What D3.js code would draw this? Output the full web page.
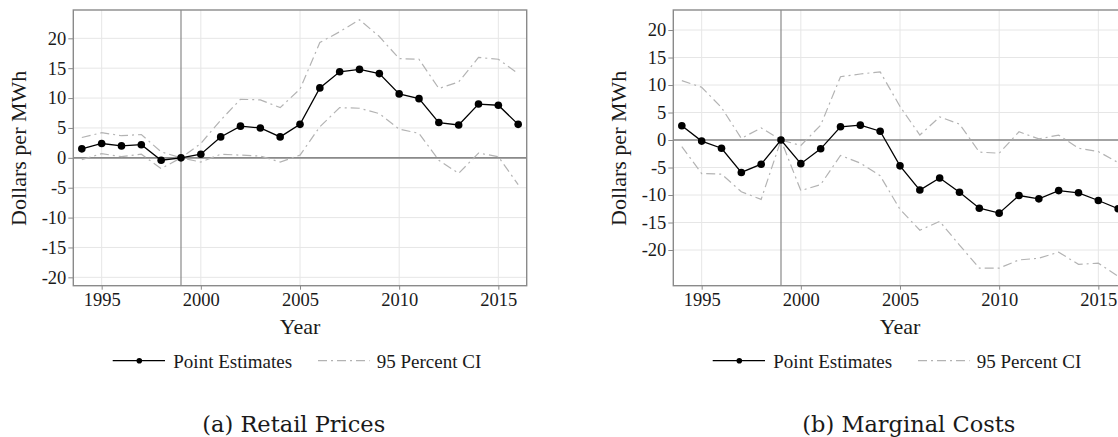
<!DOCTYPE html>
<html>
<head>
<meta charset="utf-8">
<script src="https://cdn.jsdelivr.net/npm/d3@7"></script>
<style>
  body { margin: 0; background: #fff; }
  svg { display: block; }
</style>
</head>
<body>
<div id="chart"></div>
<script>
// Data
const years = d3.range(1994, 2017);
const xTicks = [1995, 2000, 2005, 2010, 2015];
const yTicks = [-20, -15, -10, -5, 0, 5, 10, 15, 20];

const retailEst = [1.5, 2.4, 2.0, 2.2, -0.4, 0, 0.6, 3.5, 5.3, 5.0, 3.5, 5.6, 11.7, 14.4, 14.8, 14.1, 10.7, 9.9, 5.9, 5.5, 9.0, 8.8, 5.6];
const retailHi  = [3.4, 4.2, 3.7, 3.9, 1.0, 0, 2.4, 6.3, 9.8, 9.7, 8.4, 11.5, 19.3, 21.1, 23.1, 20.3, 16.6, 16.5, 11.6, 12.7, 16.8, 16.5, 14.1];
const retailLo  = [-0.3, 0.7, 0.2, 0.6, -1.8, 0, -0.7, 0.6, 0.45, 0.3, -0.7, 0.45, 5.2, 8.4, 8.3, 7.4, 4.8, 4.1, -0.4, -2.6, 0.8, 0.2, -4.5];

const mcEst = [2.6, -0.2, -1.5, -5.9, -4.4, 0, -4.3, -1.6, 2.4, 2.7, 1.6, -4.7, -9.1, -6.9, -9.5, -12.4, -13.3, -10.1, -10.7, -9.2, -9.6, -11.0, -12.5];
const mcHi  = [10.8, 9.6, 5.9, 0.3, 2.2, 0, -1.0, 2.7, 11.5, 12.0, 12.4, 6.1, 0.9, 4.2, 2.9, -2.2, -2.4, 1.5, 0.2, 0.9, -1.5, -2.1, -4.1];
const mcLo  = [-1.2, -6.1, -6.2, -9.4, -10.8, 0, -9.2, -8.1, -2.8, -4.2, -6.5, -12.6, -16.4, -14.8, -19.1, -23.3, -23.3, -21.8, -21.5, -20.4, -22.6, -22.4, -24.8];

const serif = "'Liberation Serif', 'Times New Roman', serif";

const svg = d3.select("#chart")
  .append("svg")
  .attr("width", 1118)
  .attr("height", 437);

const panels = [
  { dx: 0,   est: retailEst, lo: retailLo, hi: retailHi, yDomain: [-21.4, 24.74], zeroColor: "#8a8a8a", zeroWidth: 1.8, caption: "(a) Retail Prices" },
  { dx: 600, est: mcEst,     lo: mcLo,     hi: mcHi,     yDomain: [-26.49, 23.64], zeroColor: "#555", zeroWidth: 1.1, caption: "(b) Marginal Costs" }
];

const plot = { left: 73.3, right: 526.7, top: 10, bottom: 285.7 };

panels.forEach(p => {
  const g = svg.append("g").attr("transform", `translate(${p.dx}, 0)`);

  const x = d3.scaleLinear().domain([1993.57, 2016.43]).range([plot.left, plot.right]);
  const y = d3.scaleLinear().domain(p.yDomain).range([plot.bottom, plot.top]);

  // grid
  g.append("g").selectAll("line")
    .data(yTicks).enter().append("line")
    .attr("x1", plot.left).attr("x2", plot.right)
    .attr("y1", d => y(d)).attr("y2", d => y(d))
    .attr("stroke", "#e6e6e6").attr("stroke-width", 1);
  g.append("g").selectAll("line")
    .data(xTicks).enter().append("line")
    .attr("y1", plot.top).attr("y2", plot.bottom)
    .attr("x1", d => x(d)).attr("x2", d => x(d))
    .attr("stroke", "#e6e6e6").attr("stroke-width", 1);

  // reference lines
  g.append("line")
    .attr("x1", plot.left).attr("x2", plot.right)
    .attr("y1", y(0)).attr("y2", y(0))
    .attr("stroke", p.zeroColor).attr("stroke-width", p.zeroWidth);
  g.append("line")
    .attr("x1", x(1999)).attr("x2", x(1999))
    .attr("y1", plot.top).attr("y2", plot.bottom)
    .attr("stroke", "#8a8a8a").attr("stroke-width", 1.2);

  // CI lines
  const line = d3.line().x((d, i) => x(years[i])).y(d => y(d));
  [p.lo, p.hi].forEach(arr => {
    g.append("path")
      .datum(arr)
      .attr("d", line)
      .attr("fill", "none")
      .attr("stroke", "#b3b3b3")
      .attr("stroke-width", 1.2)
      .attr("stroke-dasharray", "9 4 2 4");
  });

  // estimates
  g.append("path")
    .datum(p.est)
    .attr("d", line)
    .attr("fill", "none")
    .attr("stroke", "#000")
    .attr("stroke-width", 1.3);
  g.selectAll("circle.pt")
    .data(p.est).enter().append("circle")
    .attr("class", "pt")
    .attr("cx", (d, i) => x(years[i]))
    .attr("cy", d => y(d))
    .attr("r", 3.8)
    .attr("fill", "#000");

  // frame
  g.append("rect")
    .attr("x", plot.left).attr("y", plot.top)
    .attr("width", plot.right - plot.left).attr("height", plot.bottom - plot.top)
    .attr("fill", "none").attr("stroke", "#8a8a8a").attr("stroke-width", 1.4);

  // axes
  const yAxis = d3.axisLeft(y).tickValues(yTicks).tickFormat(d => String(d)).tickSize(5).tickPadding(2);
  const ya = g.append("g").attr("transform", `translate(${plot.left},0)`).call(yAxis);
  ya.select(".domain").remove();
  ya.selectAll(".tick line").attr("stroke", "#8a8a8a");
  ya.selectAll(".tick text")
    .style("font-family", serif).style("font-size", "18.5px")
    .attr("fill", "#1a1a1a");

  const xAxis = d3.axisBottom(x).tickValues(xTicks).tickFormat(d => String(d)).tickSize(4).tickPadding(3);
  const xa = g.append("g").attr("transform", `translate(0,${plot.bottom})`).call(xAxis);
  xa.select(".domain").remove();
  xa.selectAll(".tick line").attr("stroke", "#8a8a8a");
  xa.selectAll(".tick text")
    .style("font-family", serif).style("font-size", "18.5px")
    .attr("fill", "#1a1a1a");

  // titles
  g.append("text")
    .attr("x", (plot.left + plot.right) / 2).attr("y", 333.5)
    .attr("text-anchor", "middle")
    .style("font-family", serif)
    .attr("font-size", "22px").attr("fill", "#1a1a1a")
    .text("Year");
  g.append("text")
    .attr("transform", `translate(26, 148.3) rotate(-90)`)
    .attr("text-anchor", "middle")
    .style("font-family", serif)
    .attr("font-size", "22px").attr("fill", "#1a1a1a")
    .text("Dollars per MWh");

  // legend
  const ly = 360.7;
  g.append("line").attr("x1", 112.7).attr("x2", 165).attr("y1", ly).attr("y2", ly)
    .attr("stroke", "#000").attr("stroke-width", 1.3);
  g.append("circle").attr("cx", 139.3).attr("cy", ly).attr("r", 2.8).attr("fill", "#000");
  g.append("text").attr("x", 173.3).attr("y", 367.7)
    .style("font-family", serif).attr("font-size", "19px").attr("fill", "#1a1a1a")
    .text("Point Estimates");
  g.append("line").attr("x1", 318).attr("x2", 369.6).attr("y1", ly).attr("y2", ly)
    .attr("stroke", "#b3b3b3").attr("stroke-width", 1.2).attr("stroke-dasharray", "9 4 2 4");
  g.append("text").attr("x", 376.8).attr("y", 367.7)
    .style("font-family", serif).attr("font-size", "19px").attr("fill", "#1a1a1a")
    .text("95 Percent CI");

  // caption
  g.append("text").attr("x", 202.3).attr("y", 431.7)
    .style("font-family", "'DejaVu Serif', serif").attr("font-size", "22.5px").attr("fill", "#1a1a1a")
    .text(p.caption);
});
</script>
</body>
</html>
